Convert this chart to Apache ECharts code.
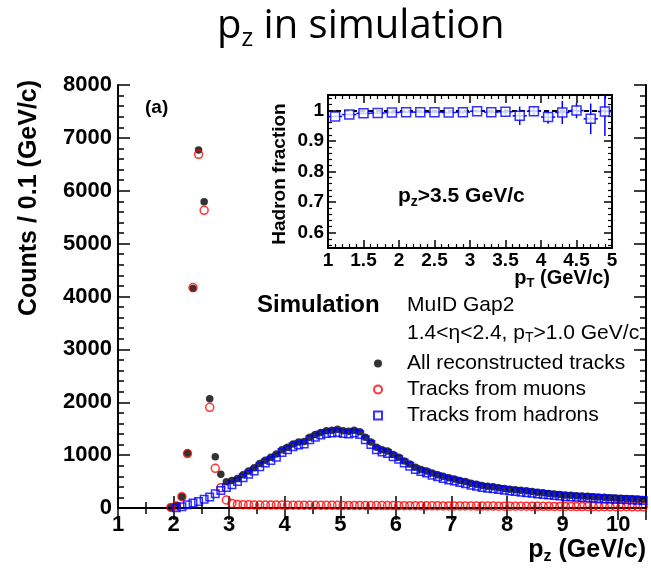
<!DOCTYPE html>
<html><head><meta charset="utf-8">
<script src="https://cdn.jsdelivr.net/npm/echarts@6.0.0/dist/echarts.min.js"></script>
<style>html,body{margin:0;padding:0;background:#fff}#c{width:651px;height:574px}</style>
</head><body><div id="c"></div>
<script>
// ---- main panel: counts per 0.1 GeV/c vs pz ----
const pzBins = [1.95,2.05,2.15,2.25,2.35,2.45,2.55,2.65,2.75,2.85,2.95,
  3.05,3.15,3.25,3.35,3.45,3.55,3.65,3.75,3.85,3.95,
  4.05,4.15,4.25,4.35,4.45,4.55,4.65,4.75,4.85,4.95,
  5.05,5.15,5.25,5.35,5.45,5.55,5.65,5.75,5.85,5.95,
  6.05,6.15,6.25,6.35,6.45,6.55,6.65,6.75,6.85,6.95,
  7.05,7.15,7.25,7.35,7.45,7.55,7.65,7.75,7.85,7.95,
  8.05,8.15,8.25,8.35,8.45,8.55,8.65,8.75,8.85,8.95,
  9.05,9.15,9.25,9.35,9.45,9.55,9.65,9.75,9.85,9.95,
  10.05,10.15,10.25,10.35,10.45];
const allCounts = [10,45,214,1034,4153,6770,5790,2066,970,637,497,
  520,560,630,700,760,840,905,960,1020,1100,
  1150,1210,1250,1260,1340,1390,1430,1460,1470,1490,
  1460,1450,1470,1440,1340,1250,1150,1100,1080,1010,
  960,890,830,770,730,700,660,630,600,570,
  550,520,500,470,450,425,410,400,385,370,
  355,345,335,325,312,297,287,276,265,255,
  245,240,233,228,222,215,208,201,195,190,
  184,179,173,168,162];
const muonCounts = [10,40,214,1030,4170,6690,5630,1904,750,384,151,
  85,68,62,60,58,57,57,56,55,55,
  54,54,53,53,52,52,51,51,50,50,
  49,49,48,48,47,47,46,46,45,45,
  44,44,43,43,42,42,41,41,40,40,
  39,39,38,38,37,37,36,36,35,35,
  34,34,33,33,32,32,31,31,30,30,
  29,29,28,28,27,27,26,26,25,25,
  24,24,23,23,22];
const hadronCounts = [null,5,25,60,95,125,165,210,270,330,390,
  440,500,570,640,700,780,850,900,960,1050,
  1100,1160,1190,1210,1290,1340,1380,1410,1420,1430,
  1410,1400,1420,1390,1290,1200,1100,1060,1030,970,
  920,850,790,730,690,660,620,590,560,530,
  510,480,460,430,410,390,375,365,350,335,
  320,310,300,290,280,265,255,245,235,225,
  215,210,205,200,195,188,182,175,170,165,
  160,155,150,145,140];
const mainXTicks = [1,2,3,4,5,6,7,8,9,10];
const mainYTicks = [0,1000,2000,3000,4000,5000,6000,7000,8000];

// ---- inset: hadron fraction vs pT for pz > 3.5 GeV/c ----
const ptBins = [1.1,1.3,1.5,1.7,1.9,2.1,2.3,2.5,2.7,2.9,3.1,3.3,3.5,3.7,3.9,4.1,4.3,4.5,4.7,4.9];
const hadronFraction = [0.980,0.986,0.990,0.991,0.993,0.994,0.994,0.994,0.993,0.994,
  0.997,0.994,0.995,0.982,0.997,0.978,0.993,0.999,0.972,0.996];
const fractionErr = [0.003,0.003,0.003,0.003,0.004,0.004,0.004,0.005,0.005,0.006,
  0.006,0.007,0.009,0.030,0.016,0.022,0.038,0.025,0.050,0.080];
const ptBinHalfWidth = 0.1;
const insetXTicks = [1,1.5,2,2.5,3,3.5,4,4.5,5];
const insetYTicks = [0.6,0.7,0.8,0.9,1];

const FONT = 'Liberation Sans';
const chart = echarts.init(document.getElementById('c'), null, {renderer:'canvas'});

function mainAxisCommon(){
  return {
    axisLine:{show:true, lineStyle:{color:'#000', width:2}},
    axisTick:{show:true, inside:true, length:12, lineStyle:{color:'#000', width:1.5}},
    minorTick:{show:true, length:6, lineStyle:{color:'#000', width:1.5}},
    splitLine:{show:false}, minorSplitLine:{show:false}
  };
}
function insetAxisCommon(){
  return {
    axisLine:{show:true, lineStyle:{color:'#000', width:2}},
    axisTick:{show:true, inside:true, length:8, lineStyle:{color:'#000', width:1.5}},
    minorTick:{show:true, length:4, splitNumber:5, lineStyle:{color:'#000', width:1.2}},
    splitLine:{show:false}, minorSplitLine:{show:false}
  };
}
const lblMain = {color:'#000', fontFamily:FONT, fontWeight:'bold', fontSize:22};
const lblInset = {color:'#000', fontFamily:FONT, fontWeight:'bold', fontSize:19};

const option = {
  animation:false,
  backgroundColor:'#fff',
  grid:[
    {left:118, top:85, width:528, height:423, show:false, containLabel:false},
    {left:328, top:95, width:284, height:153, show:true, backgroundColor:'#fff', borderWidth:0, containLabel:false}
  ],
  xAxis:[
    Object.assign(mainAxisCommon(), {type:'value', gridIndex:0, position:'bottom', min:1, max:10.5, interval:1,
      minorTick:{show:true, splitNumber:2, length:6, lineStyle:{color:'#000', width:1.5}},
      axisLabel:Object.assign({margin:6, formatter:v => mainXTicks.includes(v) ? String(v) : ''}, lblMain)}),
    Object.assign(mainAxisCommon(), {type:'value', gridIndex:0, position:'top', min:1, max:10.5, interval:1,
      minorTick:{show:true, splitNumber:2, length:6, lineStyle:{color:'#000', width:1.5}},
      axisLabel:{show:false}}),
    Object.assign(insetAxisCommon(), {type:'value', gridIndex:1, position:'bottom', min:1, max:5, interval:0.5,
      axisLabel:Object.assign({margin:3, formatter:v => insetXTicks.some(t=>Math.abs(t-v)<1e-6) ? String(+v.toFixed(1)) : ''}, lblInset)}),
    Object.assign(insetAxisCommon(), {type:'value', gridIndex:1, position:'top', min:1, max:5, interval:0.5,
      axisLabel:{show:false}})
  ],
  yAxis:[
    Object.assign(mainAxisCommon(), {type:'value', gridIndex:0, position:'left', min:0, max:8000, interval:1000,
      minorTick:{show:true, splitNumber:5, length:6, lineStyle:{color:'#000', width:1.5}},
      axisLabel:Object.assign({margin:6, formatter:v => mainYTicks.includes(v) ? String(v) : ''}, lblMain)}),
    Object.assign(mainAxisCommon(), {type:'value', gridIndex:0, position:'right', min:0, max:8000, interval:1000,
      minorTick:{show:true, splitNumber:5, length:6, lineStyle:{color:'#000', width:1.5}},
      axisLabel:{show:false}}),
    Object.assign(insetAxisCommon(), {type:'value', gridIndex:1, position:'left', min:0.55, max:1.05, splitNumber:5,
      axisLabel:Object.assign({margin:4, showMinLabel:false, showMaxLabel:false,
        formatter:v => insetYTicks.some(t=>Math.abs(t-v)<1e-6) ? String(+v.toFixed(1)) : ''}, lblInset)}),
    Object.assign(insetAxisCommon(), {type:'value', gridIndex:1, position:'right', min:0.55, max:1.05, splitNumber:5,
      axisLabel:{show:false}})
  ],
  legend:{
    orient:'vertical', left:368, top:348, itemWidth:8, itemHeight:8, itemGap:5,
    symbolKeepAspect:true,
    selectedMode:false,
    data:['All reconstructed tracks','Tracks from muons','Tracks from hadrons'],
    textStyle:{fontFamily:FONT, fontSize:21, color:'#000', padding:[0,0,0,20]}
  },
  series:[
    {name:'All reconstructed tracks', type:'scatter', xAxisIndex:0, yAxisIndex:0, z:2,
      symbol:'circle', symbolSize:7.5, itemStyle:{color:'#000'},
      data:pzBins.map((x,i)=>[x, allCounts[i]])},
    {name:'Tracks from muons', type:'scatter', xAxisIndex:0, yAxisIndex:0, z:3,
      symbol:'circle', symbolSize:8, itemStyle:{color:'rgba(0,0,0,0)', borderColor:'#ff0000', borderWidth:1.5},
      data:pzBins.map((x,i)=>[x, muonCounts[i]])},
    {name:'Tracks from hadrons', type:'scatter', xAxisIndex:0, yAxisIndex:0, z:4,
      symbol:'rect', symbolSize:7.5, itemStyle:{color:'rgba(0,0,0,0)', borderColor:'#0000ff', borderWidth:1.5},
      data:pzBins.map((x,i)=>[x, hadronCounts[i]]).filter(d=>d[1]!==null)},
    {name:'fraction errors', type:'custom', xAxisIndex:2, yAxisIndex:2, z:5, clip:true,
      data:ptBins.map((x,i)=>[x, hadronFraction[i], fractionErr[i]]),
      renderItem:(params, api) => {
        const x = api.value(0), y = api.value(1), e = api.value(2);
        const pL = api.coord([x-ptBinHalfWidth, y]), pR = api.coord([x+ptBinHalfWidth, y]);
        const pT = api.coord([x, y+e]), pB = api.coord([x, y-e]);
        const st = {stroke:'#0000ff', lineWidth:1.5};
        return {type:'group', children:[
          {type:'line', shape:{x1:pL[0], y1:pL[1], x2:pR[0], y2:pR[1]}, style:st},
          {type:'line', shape:{x1:pT[0], y1:pT[1], x2:pB[0], y2:pB[1]}, style:st}
        ]};
      }},
    {name:'Hadron fraction', type:'scatter', xAxisIndex:2, yAxisIndex:2, z:6,
      symbol:'rect', symbolSize:9, itemStyle:{color:'#fff', borderColor:'#0000ff', borderWidth:1.5},
      data:ptBins.map((x,i)=>[x, hadronFraction[i]]),
      markLine:{silent:true, symbol:'none', z:4, label:{show:false},
        lineStyle:{color:'#000', width:2, type:[5,3]}, data:[{yAxis:1}]}}
  ],
  graphic:[
    {type:'text', x:217, y:27, z:10, style:{
      text:'{p|p}{s|z}{p| in simulation}', verticalAlign:'middle', fill:'#000',
      rich:{p:{fontFamily:'Open Sans', fontSize:40, lineHeight:48, fill:'#000'},
            s:{fontFamily:'Open Sans', fontSize:25, lineHeight:23, verticalAlign:'bottom', fill:'#000'}}}},
    {type:'text', x:29, y:198, rotation:Math.PI/2, z:10, style:{
      text:'Counts / 0.1 (GeV/c)', align:'center', verticalAlign:'middle',
      fontFamily:FONT, fontWeight:'bold', fontSize:25, fill:'#000'}},
    {type:'text', x:646, y:550, z:10, style:{
      text:'{p|p}{s|z}{p| (GeV/c)}', align:'right', verticalAlign:'middle',
      rich:{p:{fontFamily:FONT, fontWeight:'bold', fontSize:25, lineHeight:30, fill:'#000'},
            s:{fontFamily:FONT, fontWeight:'bold', fontSize:16, lineHeight:14, verticalAlign:'bottom', fill:'#000'}}}},
    {type:'text', x:145, y:108, z:10, style:{
      text:'(a)', verticalAlign:'middle', fontFamily:FONT, fontWeight:'bold', fontSize:19, fill:'#000'}},
    {type:'text', x:280, y:174, rotation:Math.PI/2, z:10, style:{
      text:'Hadron fraction', align:'center', verticalAlign:'middle',
      fontFamily:FONT, fontWeight:'bold', fontSize:19, fill:'#000'}},
    {type:'text', x:610, y:278, z:10, style:{
      text:'{p|p}{s|T}{p| (GeV/c)}', align:'right', verticalAlign:'middle',
      rich:{p:{fontFamily:FONT, fontWeight:'bold', fontSize:20, lineHeight:24, fill:'#000'},
            s:{fontFamily:FONT, fontWeight:'bold', fontSize:13, lineHeight:11, verticalAlign:'bottom', fill:'#000'}}}},
    {type:'text', x:398, y:196, z:10, style:{
      text:'{p|p}{s|z}{p|>3.5 GeV/c}', verticalAlign:'middle',
      rich:{p:{fontFamily:FONT, fontWeight:'bold', fontSize:21, lineHeight:26, fill:'#000'},
            s:{fontFamily:FONT, fontWeight:'bold', fontSize:14, lineHeight:12, verticalAlign:'bottom', fill:'#000'}}}},
    {type:'text', x:257, y:305, z:10, style:{
      text:'Simulation', verticalAlign:'middle', fontFamily:FONT, fontWeight:'bold', fontSize:24, fill:'#000'}},
    {type:'text', x:407, y:305, z:10, style:{
      text:'MuID Gap2', verticalAlign:'middle', fontFamily:FONT, fontSize:21, fill:'#000'}},
    {type:'text', x:407, y:333, z:10, style:{
      text:'{p|1.4<η<2.4, p}{s|T}{p|>1.0 GeV/c}', verticalAlign:'middle',
      rich:{p:{fontFamily:FONT, fontSize:21, lineHeight:25, fill:'#000'},
            s:{fontFamily:FONT, fontSize:14, lineHeight:12, verticalAlign:'bottom', fill:'#000'}}}}
  ]
};
chart.setOption(option);
</script>
</body></html>
